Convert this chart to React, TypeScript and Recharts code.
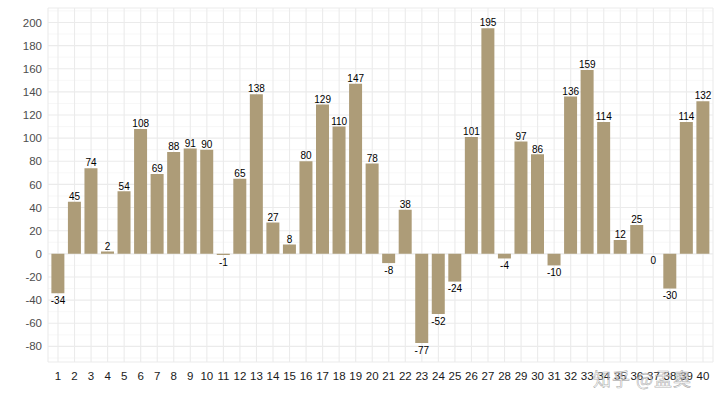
import React from "react";
import { ComposedChart, Bar, Line, XAxis, YAxis, CartesianGrid, LabelList } from "recharts";

const categories = Array.from({ length: 40 }, (_, i) => String(i + 1));
const values = [-34, 45, 74, 2, 54, 108, 69, 88, 91, 90, -1, 65, 138, 27, 8, 80, 129, 110, 147, 78, -8, 38, -77, -52, -24, 101, 195, -4, 97, 86, -10, 136, 159, 114, 12, 25, 0, -30, 114, 132];
const yTicks = [-80, -60, -40, -20, 0, 20, 40, 60, 80, 100, 120, 140, 160, 180, 200];
const minorTicks = [-90, -70, -50, -30, -10, 10, 30, 50, 70, 90, 110, 130, 150, 170, 190, 210];

const data = categories.map((c, i) => ({ cat: c, value: values[i] }));

const FONT = "'Liberation Sans', Arial, Helvetica, sans-serif";

const renderLabel = (props: any) => {
  const { x, y, value, index } = props;
  const cx = Number(x);
  const py = Number(y);
  const ty = value > 0 ? py - 1.8 : py + 10.6;
  return (
    <text key={`l${index}`} x={cx} y={ty} textAnchor="middle" fontSize={10} fill="#000" fontFamily={FONT}>
      {value}
    </text>
  );
};

export default function App() {
  return (
    <div style={{ position: "absolute", left: 0, top: 0, width: 720, height: 405, background: "#fff" }}>
      <ComposedChart
        width={720}
        height={405}
        data={data}
        margin={{ top: 8, right: 7, left: 0, bottom: 0 }}
        barCategoryGap="10%"
      >
        <CartesianGrid stroke="#f2f2f2" strokeWidth={0.6} horizontalValues={minorTicks} vertical={false} />
        <CartesianGrid stroke="#ebebeb" strokeWidth={1.1} horizontal={true} vertical={true} />
        <XAxis
          dataKey="cat"
          type="category"
          interval={0}
          height={43}
          axisLine={false}
          tickLine={false}
          tickSize={0}
          tickMargin={10}
          padding={{ left: 1.73, right: 1.73 }}
          tick={{ fontSize: 11.5, fill: "#1a1a1a", fontFamily: FONT }}
        />
        <YAxis
          type="number"
          domain={[-93.5, 212.5]}
          ticks={yTicks}
          allowDataOverflow={true}
          width={48}
          axisLine={false}
          tickLine={false}
          tickSize={0}
          tickMargin={6}
          interval={0}
          tick={{ fontSize: 11.5, fill: "#4d4d4d", fontFamily: FONT }}
        />
        <Bar dataKey="value" fill="#ad9c78" isAnimationActive={false} />
        <Line
          dataKey="value"
          stroke="none"
          dot={false}
          activeDot={false}
          isAnimationActive={false}
          legendType="none"
        >
          <LabelList dataKey="value" content={renderLabel} />
        </Line>
      </ComposedChart>
      <div
        style={{
          position: "absolute",
          left: 593,
          top: 365,
          fontFamily: "'Noto Sans CJK SC', sans-serif",
          fontSize: 18,
          color: "rgba(255,255,255,0.6)",
          WebkitTextStroke: "0.6px rgba(120,120,120,0.6)",
          letterSpacing: 1,
          pointerEvents: "none",
        }}
      >
        知乎 @孟奥
      </div>
    </div>
  );
}
